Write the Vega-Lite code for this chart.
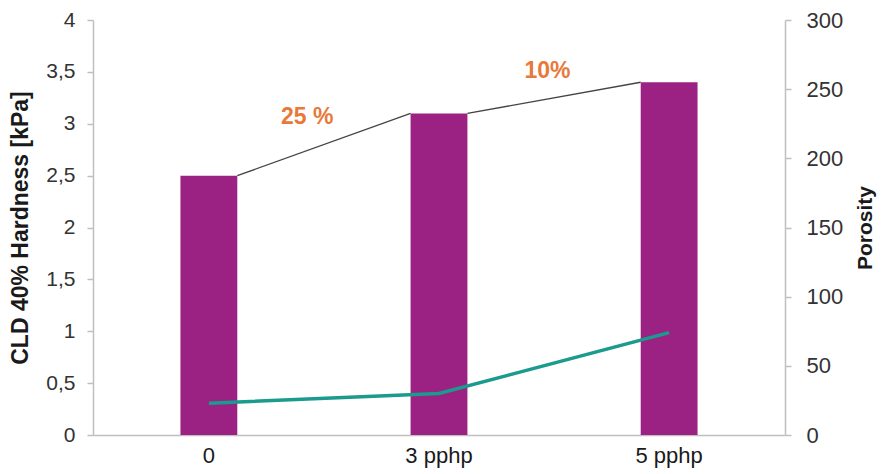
{
  "$schema": "https://vega.github.io/schema/vega-lite/v6.json",
  "width": 692,
  "height": 415,
  "autosize": {"type": "none"},
  "padding": {"left": 93, "top": 20, "right": 96, "bottom": 39},
  "config": {
    "view": {"stroke": null},
    "font": "Liberation Sans",
    "axis": {
      "grid": false,
      "domainColor": "#bfbfbf",
      "domainWidth": 1.5,
      "tickColor": "#bfbfbf",
      "tickWidth": 1.5,
      "labelColor": "#333333",
      "labelFontSize": 21,
      "titleFontSize": 21,
      "titleColor": "#1a1a1a",
      "titleFontWeight": "bold"
    }
  },
  "data": {
    "values": [
      {"dose": "0", "hardness": 2.5, "porosity": 23},
      {"dose": "3 pphp", "hardness": 3.1, "porosity": 30},
      {"dose": "5 pphp", "hardness": 3.4, "porosity": 74}
    ]
  },
  "layer": [
    {
      "layer": [
        {
          "mark": {"type": "bar", "color": "#9b2182"},
          "encoding": {
            "x": {
              "field": "dose",
              "type": "nominal",
              "scale": {"domain": ["0", "3 pphp", "5 pphp"], "paddingInner": 0.753, "paddingOuter": 0.38},
              "axis": {"title": null, "labelAngle": 0, "ticks": false, "labelPadding": 10, "labelColor": "#1a1a1a", "labelFontSize": 22}
            },
            "y": {
              "field": "hardness",
              "type": "quantitative",
              "scale": {"domain": [0, 4]},
              "axis": {
                "title": "CLD 40% Hardness [kPa]",
                "titleFontSize": 23,
                "values": [0, 0.5, 1, 1.5, 2, 2.5, 3, 3.5, 4],
                "format": "~g",
                "labelExpr": "replace(datum.label, '.', ',')",
                "tickSize": 6,
                "labelPadding": 12,
                "titlePadding": 13
              }
            }
          }
        },
        {
          "data": {
            "values": [
              {"from": "0", "to": "3 pphp", "h1": 2.5, "h2": 3.1},
              {"from": "3 pphp", "to": "5 pphp", "h1": 3.1, "h2": 3.4}
            ]
          },
          "mark": {"type": "rule", "color": "#444444", "strokeWidth": 1.4},
          "encoding": {
            "x": {"field": "from", "type": "nominal", "bandPosition": 1},
            "x2": {"field": "to", "bandPosition": 0},
            "y": {"field": "h1", "type": "quantitative"},
            "y2": {"field": "h2"}
          }
        },
        {
          "data": {"values": [{"from": "0", "h": 3.1, "label": "25 %"}]},
          "mark": {"type": "text", "color": "#e8793a", "fontSize": 23, "fontWeight": "bold", "dx": 70, "dy": 4},
          "encoding": {
            "x": {"field": "from", "type": "nominal", "bandPosition": 1},
            "y": {"field": "h", "type": "quantitative"},
            "text": {"field": "label"}
          }
        },
        {
          "data": {"values": [{"from": "3 pphp", "h": 3.4, "label": "10%"}]},
          "mark": {"type": "text", "color": "#e8793a", "fontSize": 23, "fontWeight": "bold", "dx": 80, "dy": -11},
          "encoding": {
            "x": {"field": "from", "type": "nominal", "bandPosition": 1},
            "y": {"field": "h", "type": "quantitative"},
            "text": {"field": "label"}
          }
        }
      ]
    },
    {
      "mark": {"type": "line", "color": "#1b9a8e", "strokeWidth": 3.5},
      "encoding": {
        "x": {"field": "dose", "type": "nominal"},
        "y": {
          "field": "porosity",
          "type": "quantitative",
          "scale": {"domain": [0, 300]},
          "axis": {
            "orient": "right",
            "title": "Porosity",
            "values": [0, 50, 100, 150, 200, 250, 300],
            "labelFontSize": 22,
            "tickSize": 6,
            "labelPadding": 15,
            "titlePadding": 33,
            "titleAngle": 270
          }
        }
      }
    }
  ],
  "resolve": {"scale": {"y": "independent"}}
}
